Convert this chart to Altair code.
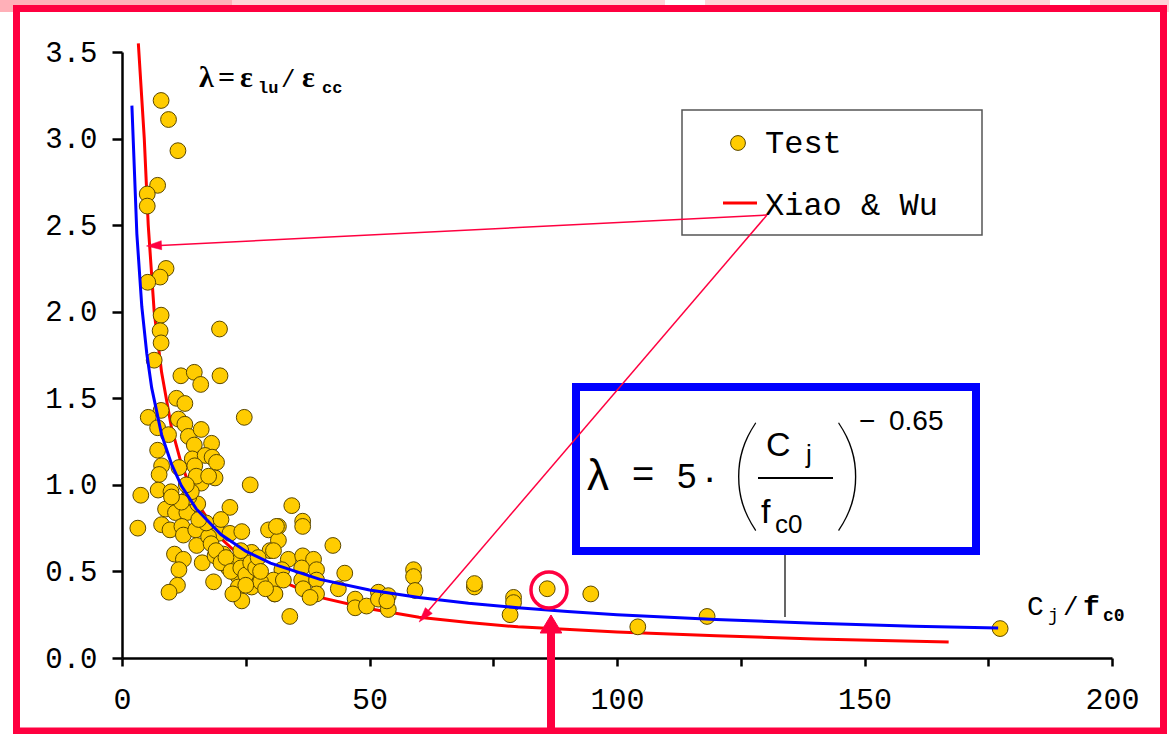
import altair as alt
import pandas as pd

# ---------------- data ----------------
test_x = [7.9, 9.4, 11.3, 7.2, 5.1, 5.1, 8.9, 7.7, 5.2, 7.9, 7.7, 19.7, 7.9, 6.5, 11.9, 14.6,
          15.9, 19.8, 11.0, 12.7, 7.9, 5.3, 24.7, 11.4, 12.7, 7.2, 9.4, 13.4, 16.0, 14.6, 18.1,
          7.2, 14.2, 16.8, 18.2, 19.1, 8.0, 14.7, 7.5, 18.8, 16.0, 25.9, 3.8, 7.3, 9.9, 8.8,
          10.8, 13.1, 15.3, 21.8, 3.2, 8.0, 9.7, 12.1, 12.4, 14.9, 19.5, 21.8, 24.2, 29.6, 31.6,
          15.1, 10.6, 12.4, 16.2, 18.8, 20.5, 23.5, 26.2, 29.9, 31.6, 11.5, 21.5, 23.5, 26.2,
          26.2, 11.2, 9.5, 18.5, 23.5, 24.2, 30.8, 22.4, 34.3, 36.5, 36.5, 42.6, 31.2, 30.6,
          33.6, 36.5, 38.7, 32.3, 36.3, 39.3, 30.6, 32.6, 36.3, 39.3, 36.6, 39.3, 38.0, 30.9,
          45.0, 43.7, 33.9, 47.1, 47.1, 49.4, 51.8, 51.8, 53.8, 53.8, 53.5, 58.9, 58.9, 59.2,
          71.2, 71.2, 79.1, 79.1, 78.4, 85.9, 94.7, 104.2, 118.2, 177.4,
          17.5, 18.0, 19.0, 20.0, 21.0, 22.0, 24.0, 25.0, 26.0, 27.0, 28.0, 27.5, 13.5, 14.0,
          15.0, 13.0, 12.0, 10.0, 11.5, 17.5, 17.0, 15.5, 20.0, 24.0, 25.0, 28.0, 29.0]
test_y = [3.22, 3.11, 2.93, 2.73, 2.68, 2.61, 2.25, 2.20, 2.17, 1.98, 1.89, 1.90, 1.82, 1.72, 1.63, 1.65,
          1.58, 1.63, 1.50, 1.47, 1.43, 1.39, 1.39, 1.38, 1.35, 1.33, 1.29, 1.28, 1.32, 1.23, 1.24,
          1.20, 1.15, 1.17, 1.16, 1.13, 1.11, 1.11, 1.06, 1.04, 1.01, 1.00, 0.94, 0.97, 0.96, 0.86,
          0.84, 0.84, 0.89, 0.87, 0.75, 0.77, 0.74, 0.76, 0.71, 0.74, 0.72, 0.72, 0.73, 0.74, 0.76,
          0.65, 0.60, 0.57, 0.55, 0.59, 0.60, 0.56, 0.61, 0.62, 0.68, 0.51, 0.52, 0.47, 0.47,
          0.41, 0.42, 0.38, 0.44, 0.41, 0.33, 0.37, 0.37, 0.88, 0.79, 0.76, 0.65, 0.76, 0.62,
          0.57, 0.59, 0.57, 0.51, 0.52, 0.51, 0.45, 0.45, 0.45, 0.45, 0.40, 0.37, 0.35, 0.37,
          0.49, 0.40, 0.24, 0.34, 0.29, 0.30, 0.38, 0.34, 0.36, 0.28, 0.33, 0.51, 0.47, 0.39,
          0.41, 0.43, 0.35, 0.32, 0.25, 0.40, 0.37, 0.18, 0.24, 0.17,
          0.70, 0.66, 0.62, 0.55, 0.58, 0.50, 0.52, 0.48, 0.55, 0.52, 0.44, 0.58, 0.93, 0.96,
          1.05, 1.00, 0.90, 0.93, 1.10, 1.05, 0.78, 0.80, 0.80, 0.62, 0.42, 0.50, 0.40]

# proposed model (blue)
blue_x = [2, 3, 4, 5, 6, 8, 10, 12, 15, 20, 25, 30, 40, 50, 60, 70, 80, 90, 100, 120, 140, 160, 177]
blue_y = [3.19, 2.45, 2.03, 1.76, 1.56, 1.29, 1.12, 0.994, 0.861, 0.713, 0.617, 0.548, 0.454, 0.393,
          0.349, 0.316, 0.290, 0.268, 0.250, 0.222, 0.201, 0.184, 0.173]

# Xiao & Wu (red)
red_x = [3.3, 4.5, 5.3, 6.5, 8, 10, 12, 14, 16, 20, 25, 30, 40, 50, 60, 70, 80, 100, 120, 140, 167]
red_y = [3.55, 3.0, 2.5, 2.0, 1.65, 1.33, 1.12, 0.97, 0.86, 0.69, 0.56, 0.47, 0.35, 0.285, 0.235,
         0.205, 0.18, 0.15, 0.128, 0.11, 0.093]

x_ticks = [0, 25, 50, 75, 100, 125, 150, 175, 200]
y_ticks = [0, 0.5, 1.0, 1.5, 2.0, 2.5, 3.0, 3.5]

# ---------------- layout ----------------
W, H = 990, 606
X0, Y0 = 122, 52
RED = "#FF0040"
one = pd.DataFrame({"a": [0]})

xs = alt.Scale(domain=[0, 200], nice=False, zero=False)
ys = alt.Scale(domain=[0, 3.5], nice=False, zero=False)

xaxis = alt.Axis(values=x_ticks, labelExpr="datum.value % 50 == 0 ? datum.label : ''", format="d",
                 title=None, grid=False, domainColor="black", domainWidth=2.5, tickColor="black",
                 tickWidth=2.5, tickSize=8, labelFont="Liberation Mono", labelFontSize=30,
                 labelColor="black", labelPadding=18, labelFlush=False, labelOverlap=False)
yaxis = alt.Axis(values=y_ticks, format=".1f", title=None, grid=False, domainColor="black",
                 domainWidth=2.5, tickColor="black", tickWidth=2.5, tickSize=10,
                 labelFont="Liberation Mono", labelFontSize=29, labelColor="black",
                 labelPadding=15, labelFlush=False, labelOverlap=False)

df_test = pd.DataFrame({"x": test_x, "y": test_y})
df_blue = pd.DataFrame({"x": blue_x, "y": blue_y})
df_red = pd.DataFrame({"x": red_x, "y": red_y})

red_line = alt.Chart(df_red).mark_line(color="#FF0000", strokeWidth=3, clip=False).encode(
    x=alt.X("x:Q", scale=xs, axis=xaxis), y=alt.Y("y:Q", scale=ys, axis=yaxis), order="x:Q")
points = alt.Chart(df_test).mark_circle(size=250, color="#FFCC00", opacity=1, stroke="#5A4700",
                                        strokeWidth=1).encode(x=alt.X("x:Q", scale=xs),
                                                              y=alt.Y("y:Q", scale=ys))
blue_line = alt.Chart(df_blue).mark_line(color="#0000FF", strokeWidth=3, clip=False).encode(
    x=alt.X("x:Q", scale=xs), y=alt.Y("y:Q", scale=ys), order="x:Q")


def T(txt, x, y, size, font="Liberation Sans", weight="normal", align="left",
      baseline="alphabetic", color="black"):
    return alt.Chart(pd.DataFrame({"t": [txt]})).mark_text(
        align=align, baseline=baseline, font=font, fontSize=size, fontWeight=weight,
        color=color).encode(x=alt.value(x - X0), y=alt.value(y - Y0), text="t:N")


def R(x1, y1, x2, y2, color, width):
    return alt.Chart(one).mark_rule(color=color, strokeWidth=width).encode(
        x=alt.value(x1 - X0), y=alt.value(y1 - Y0), x2=alt.value(x2 - X0), y2=alt.value(y2 - Y0))


def BOX(x1, y1, x2, y2, stroke=None, width=1, fill=None):
    kw = dict(strokeWidth=width)
    if stroke:
        kw["stroke"] = stroke
    if fill:
        kw["fill"] = fill
    else:
        kw["fillOpacity"] = 0
    return alt.Chart(one).mark_rect(**kw).encode(
        x=alt.value(x1 - X0), y=alt.value(y1 - Y0), x2=alt.value(x2 - X0), y2=alt.value(y2 - Y0))


def P(x, y, shape, size, fill=None, stroke=None, sw=1, angle=0):
    kw = dict(shape=shape, size=size, angle=angle, opacity=1, strokeWidth=sw)
    if fill:
        kw["fill"] = fill
        kw["filled"] = True
    if stroke:
        kw["stroke"] = stroke
    if not fill:
        kw["filled"] = False
    return alt.Chart(one).mark_point(**kw).encode(x=alt.value(x - X0), y=alt.value(y - Y0))


ARROW = "M0,-1L-0.6,1L0.6,1Z"
BIGARROW = "M0,-1L-1.2,1L1.2,1Z"

layers = [
    # pink strips on top
    BOX(0, 0, 232, 12, fill="#FFB0B8", width=0),
    BOX(232, 0, 665, 12, fill="#FFD4D8", width=0),
    BOX(705, 0, 1050, 12, fill="#FFD4D8", width=0),
    BOX(1090, 0, 1169, 12, fill="#FFD4D8", width=0),
    red_line, points, blue_line,
    # axis-like titles
    T("λ", 199, 87, 30, font="Liberation Serif", weight="bold"),
    T("=", 218, 87, 30, font="Liberation Serif", weight="bold"),
    T("ε", 240, 87, 30, font="Liberation Serif", weight="bold"),
    T("lu", 258, 93, 17, font="Liberation Mono", weight="bold"),
    T("/", 281, 87, 24, font="Liberation Mono"),
    T("ε", 302, 87, 30, font="Liberation Serif", weight="bold"),
    T("cc", 322, 93, 17, font="Liberation Mono", weight="bold"),
    T("C", 1027, 615, 28, font="Liberation Mono"),
    T("j", 1048, 621, 18, font="Liberation Mono"),
    T("/", 1063, 615, 26, font="Liberation Mono"),
    T("f", 1083, 615, 28, font="Liberation Mono", weight="bold"),
    T("c0", 1103, 621, 18, font="Liberation Mono", weight="bold"),
    # legend
    BOX(682, 110, 982, 235, stroke="#555555", width=1.5, fill="white"),
    P(738, 143, "circle", 220, fill="#FFCC00", stroke="#5A4700", sw=1),
    T("Test", 765, 153, 32, font="Liberation Mono"),
    R(723, 203, 757, 203, "#FF0000", 3),
    T("Xiao & Wu", 765, 215, 32, font="Liberation Mono"),
    # formula box
    BOX(576, 387, 976, 551, stroke="#0000FF", width=8, fill="white"),
    R(785, 555, 785, 617, "black", 1.2),
    T("λ", 587, 490, 44),
    T("=", 632, 487, 38),
    T("5", 677, 488, 35),
    T("·", 703, 491, 40),
    T("(", 730, 478, 125, font="Lato", weight=200, baseline="middle"),
    T("C", 766, 456, 34),
    T("j", 806, 463, 26),
    R(758, 478, 833, 478, "black", 2),
    T("f", 761, 523, 34),
    T("c0", 775, 533, 26),
    T(")", 833, 478, 125, font="Lato", weight=200, baseline="middle"),
    T("−", 859, 430, 28),
    T("0.65", 889, 430, 28),
    # annotation arrows
    R(767, 215, 150, 246, RED, 1.5),
    P(154, 245.6, ARROW, 225, fill=RED, stroke=RED, sw=0.5, angle=267),
    R(767, 215, 423, 617, RED, 1.5),
    P(424, 616.3, ARROW, 225, fill=RED, stroke=RED, sw=0.5, angle=220),
    P(549, 590, "circle", 1300, stroke=RED, sw=3.5),
    # outer border
    BOX(16.5, 8.5, 1163.5, 731, stroke=RED, width=7),
    # big arrow
    R(551, 734, 551, 628, RED, 8),
    P(551, 624, BIGARROW, 324, fill=RED, stroke=RED, sw=1),
]

chart = alt.layer(*layers).properties(
    width=W, height=H,
    autosize=alt.AutoSizeParams(type="none"),
    padding={"left": X0, "top": Y0, "right": 1169 - X0 - W, "bottom": 734 - Y0 - H},
    background="white",
).configure_view(stroke=None)

chart.save("out.html", embed_options={"renderer": "svg", "actions": False})
